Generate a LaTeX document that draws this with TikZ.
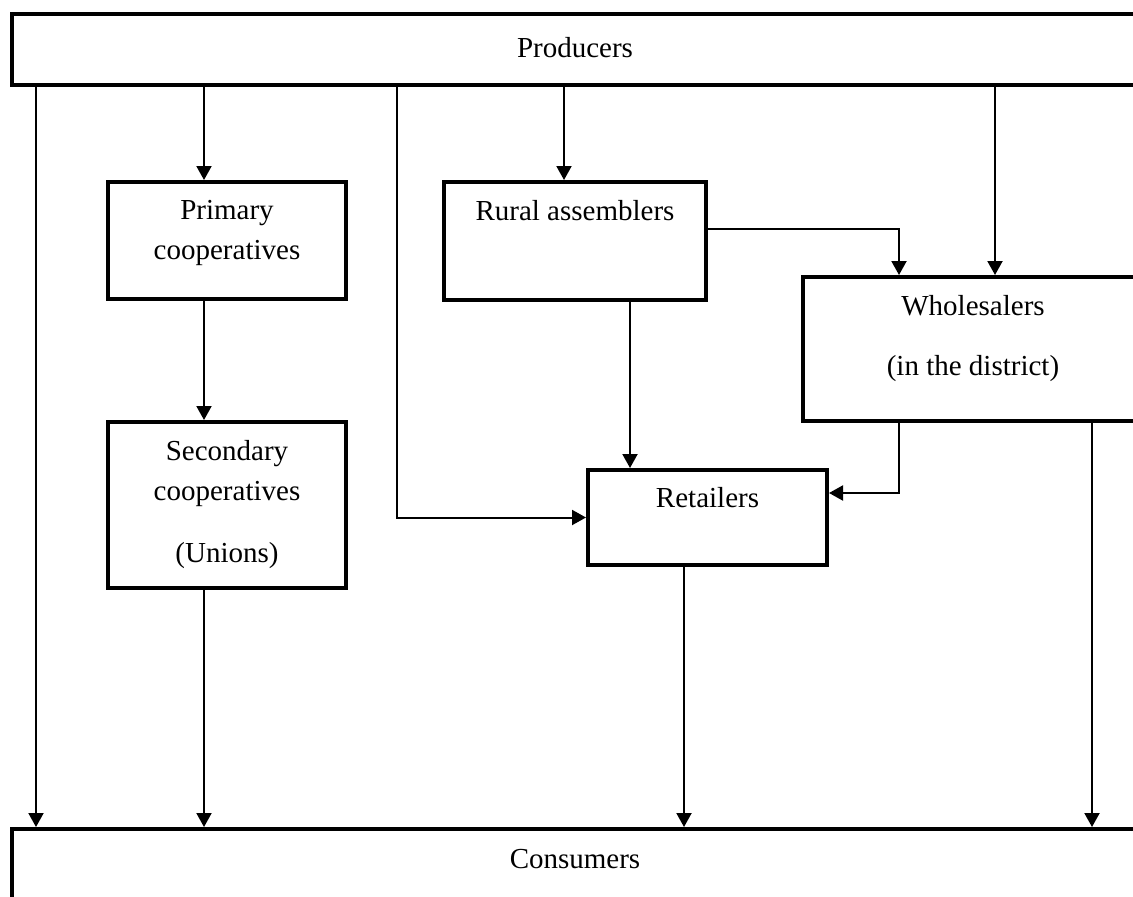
\documentclass[tikz,border=0pt]{standalone}
\usepackage{fontspec}
\setmainfont{Liberation Serif}
\usetikzlibrary{arrows.meta}

\begin{document}
\begin{tikzpicture}[
    x=1pt, y=-1pt,
    box/.style   = {rectangle, draw, line width=4pt, inner sep=0pt},
    txt/.style   = {font=\fontsize{29}{40}\selectfont, align=center, inner sep=0pt},
    arrow/.style = {-{Triangle[width=15pt,length=14pt]}, line width=2pt}
]
\useasboundingbox (0,0) rectangle (1133,897);
\clip (0,0) rectangle (1133,897);
% boxes
\node[box, minimum width=1130, minimum height=71]  (prod)  at (577,49.5) {};
\node[box, minimum width=1130, minimum height=90]  (cons)  at (577,874)  {};
\node[box, minimum width=238, minimum height=117]  (prim)  at (227,240.5) {};
\node[box, minimum width=238, minimum height=166]  (sec)   at (227,505)  {};
\node[box, minimum width=262, minimum height=118]  (rural) at (575,241)  {};
\node[box, minimum width=338, minimum height=144]  (whole) at (972,349)  {};
\node[box, minimum width=239, minimum height=95]   (ret)   at (707.5,517.5) {};
% texts
\node[txt, anchor=base]  (prodtxt)  at (575,57)  {Producers};
\node[txt, anchor=base]  (constxt)  at (575,868) {Consumers};
\node[txt, anchor=north] (primtxt)  at (227,200) {Primary\\cooperatives};
\node[txt, anchor=north] (sectxt)   at (227,440) {Secondary\\cooperatives\\[22pt](Unions)};
\node[txt, anchor=base]  (ruraltxt) at (575,220) {Rural assemblers};
\node[txt, anchor=north] (wholetxt) at (973,295) {Wholesalers\\[20pt](in the district)};
\node[txt, anchor=base]  (rettxt)   at (707.5,507) {Retailers};
% connectors
\draw[arrow] (prod.south -| 36,0)  -- (cons.north -| 36,0);
\draw[arrow] (prod.south -| 204,0) -- (prim.north -| 204,0);
\draw[arrow] (prim.south -| 204,0) -- (sec.north -| 204,0);
\draw[arrow] (sec.south -| 204,0)  -- (cons.north -| 204,0);
\draw[arrow] (prod.south -| 397,0) |- (ret.west);
\draw[arrow] (prod.south -| 564,0) -- (rural.north -| 564,0);
\draw[arrow] (prod.south -| 995,0) -- (whole.north -| 995,0);
\draw[arrow] (rural.south -| 630,0) -- (ret.north -| 630,0);
\draw[arrow] (rural.east |- 0,229) -| (whole.north -| 899,0);
\draw[arrow] (whole.south -| 899,0) |- (ret.east |- 0,493);
\draw[arrow] (ret.south -| 684,0)  -- (cons.north -| 684,0);
\draw[arrow] (whole.south -| 1092,0) -- (cons.north -| 1092,0);
\end{tikzpicture}
\end{document}
